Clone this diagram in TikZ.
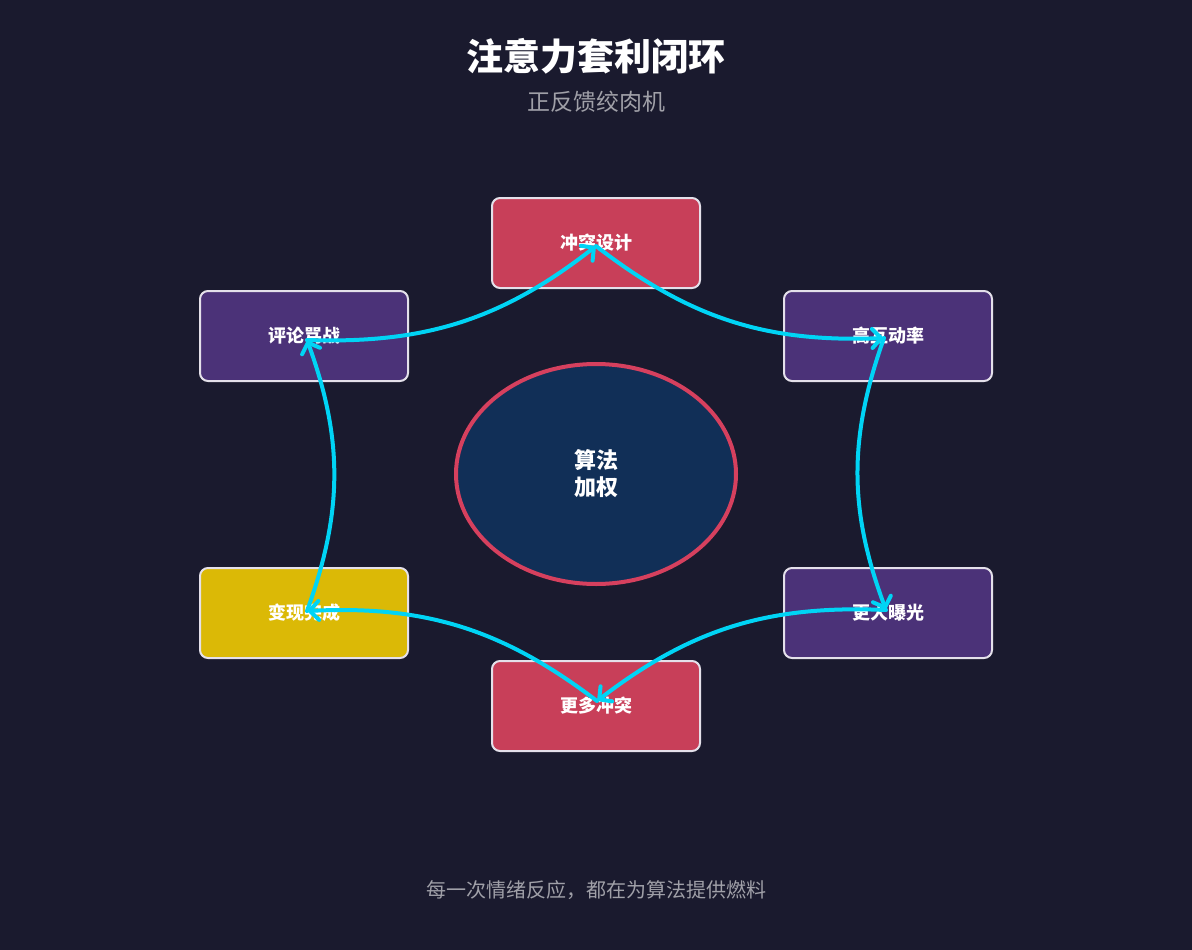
\documentclass[tikz,border=0pt]{standalone}
\usepackage{fontspec}
\setmainfont{Noto Sans CJK SC}
\usetikzlibrary{arrows.meta,shapes.geometric}
\definecolor{bg}{HTML}{1A1A2E}
\definecolor{boxred}{HTML}{C83F59}
\definecolor{boxpurple}{HTML}{4B3278}
\definecolor{boxyellow}{HTML}{DBB906}
\definecolor{ellfill}{HTML}{112F57}
\definecolor{ellline}{HTML}{D6405E}
\definecolor{flow}{HTML}{00D4F5}
\definecolor{boxline}{HTML}{E4E0EA}
\definecolor{subgray}{HTML}{A0A0A8}
\tikzset{
  stagebox/.style={draw=boxline, line width=2pt, rounded corners=8pt,
    minimum width=208pt, minimum height=90pt, inner sep=0pt,
    text=white, font=\fontsize{18}{21}\selectfont\bfseries},
  flowarrow/.style={draw=flow, line width=4pt, line cap=round,
    -{Straight Barb[length=9pt,width=19pt,line width=4pt,line cap=round]}, bend right=20},
}
\begin{document}
\begin{tikzpicture}[x=1pt,y=-1pt]
\useasboundingbox[fill=bg] (0,0) rectangle (1192,950);

\node[text=white, font=\fontsize{37}{41}\selectfont\bfseries] (title) at (596,56) {注意力套利闭环};
\node[text=subgray, font=\fontsize{23}{27}\selectfont] (subtitle) at (596,102) {正反馈绞肉机};

\node[ellipse, draw=ellline, line width=4pt, fill=ellfill, minimum width=280pt, minimum height=220pt,
  text=white, font=\fontsize{22}{27}\selectfont\bfseries, align=center] (core) at (596,474) {算法\\加权};

\node[stagebox, fill=boxred] (s1) at (596,243) {冲突设计};
\node[stagebox, fill=boxpurple] (s2) at (888,336) {高互动率};
\node[stagebox, fill=boxpurple] (s3) at (888,613) {更大曝光};
\node[stagebox, fill=boxred] (s4) at (596,706) {更多冲突};
\node[stagebox, fill=boxyellow] (s5) at (304,613) {变现完成};
\node[stagebox, fill=boxpurple] (s6) at (304,336) {评论骂战};

\coordinate (p1) at (596,246);
\coordinate (p2) at (884,338);
\coordinate (p3) at (886,610);
\coordinate (p4) at (597,701);
\coordinate (p5) at (307,611);
\coordinate (p6) at (307,340);

\draw[flowarrow] (p1) to (p2);
\draw[flowarrow] (p2) to (p3);
\draw[flowarrow] (p3) to (p4);
\draw[flowarrow] (p4) to (p5);
\draw[flowarrow] (p5) to (p6);
\draw[flowarrow] (p6) to (p1);

\node[text=subgray, font=\fontsize{20}{24}\selectfont] (footer) at (596,890) {每一次情绪反应，都在为算法提供燃料};
\end{tikzpicture}
\end{document}
